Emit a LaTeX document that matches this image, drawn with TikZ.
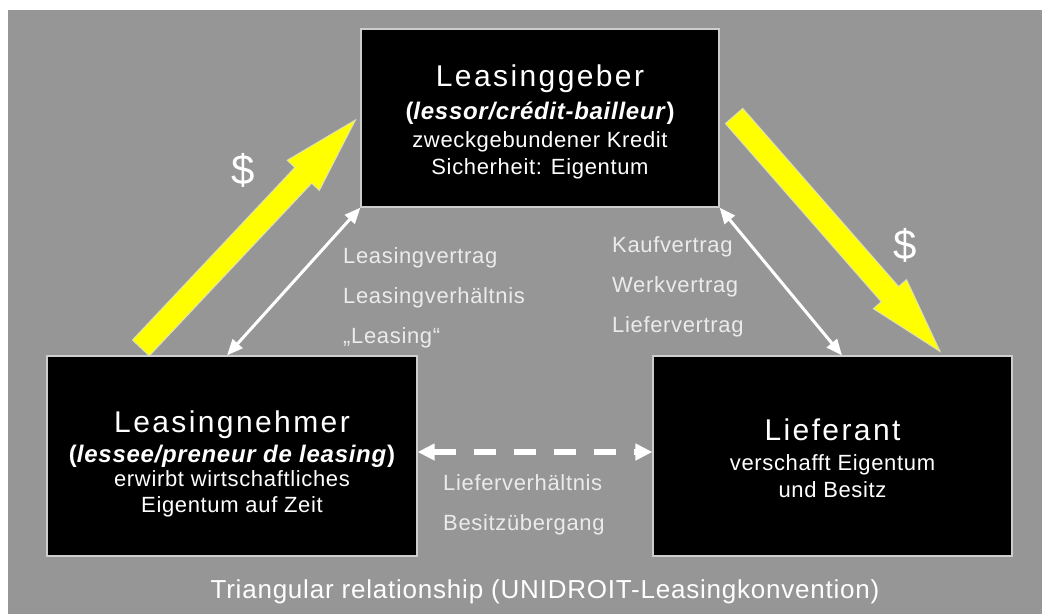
\documentclass[tikz,border=0pt]{standalone}
\usepackage{fontspec}
\setmainfont[LetterSpace=3]{Liberation Sans}
\newfontfamily\headfont[LetterSpace=8]{Liberation Sans}
\usetikzlibrary{arrows.meta,calc}
\definecolor{backgray}{RGB}{150,150,150}
\definecolor{boxline}{RGB}{205,205,205}
\definecolor{labelgray}{RGB}{235,235,235}
\definecolor{moneyyellow}{RGB}{255,255,0}
\definecolor{moneyline}{RGB}{225,225,170}
\tikzset{party/.style={draw=boxline,
                       fill=black,
                       line width=1.2pt,
                       inner sep=0pt},
         partytext/.style={text=white, align=center},
         contract/.style={text=labelgray, align=left, anchor=north west,
                          inner sep=0pt, font=\fontsize{22}{40}\selectfont},
         relation/.style={draw=white, line width=3pt},
         money/.style={fill=moneyyellow, draw=moneyline, line width=1pt},
         dollar/.style={text=white, font=\fontsize{42}{42}\selectfont}}
% broad yellow arrow from #1 to #2
\newcommand{\moneyarrow}[2]{%
  \coordinate (ms) at (#1);
  \coordinate (mt) at (#2);
  \coordinate (mh) at ($(mt)!76pt!(ms)$);
  \filldraw[money] ($(ms)!11.5pt!90:(mt)$) -- ($(mh)!11.5pt!90:(mt)$)
    -- ($(mh)!22pt!90:(mt)$) -- (mt) -- ($(mh)!22pt!-90:(mt)$)
    -- ($(mh)!11.5pt!-90:(mt)$) -- ($(ms)!11.5pt!-90:(mt)$) -- cycle;}

\begin{document}
\begin{tikzpicture}[x=1pt, y=-1pt, >={Triangle[length=16pt,width=13pt]}]
    % background, white edge at top and left
    \useasboundingbox (0,0) rectangle (1042,614);
    \fill[white] (0,0) rectangle (1042,614);
    \fill[backgray] (8,10) rectangle (1042,614);
    % We start by placing the three parties
    \node [party, minimum width=358pt, minimum height=178pt] (geber) at (540,118) {};
    \node [party, minimum width=370pt, minimum height=200pt] (nehmer) at (232,456) {};
    \node [party, minimum width=359pt, minimum height=200pt] (lieferant) at (832.5,456) {};
    % what is written in the boxes
    \node [partytext, font=\fontsize{22}{27}\selectfont] (gebertext) at ([yshift=-4pt]geber.center)
        {{\headfont\fontsize{30}{30}\selectfont Leasinggeber}\\[6pt]
         {\fontsize{24}{24}\selectfont\bfseries(\textit{lessor/crédit-bailleur})}\\[1pt]
         zweckgebundener Kredit\\
         Sicherheit: Eigentum};
    \node [partytext, font=\fontsize{22}{26}\selectfont] (nehmertext) at ([yshift=-8pt]nehmer.center)
        {{\headfont\fontsize{30}{30}\selectfont Leasingnehmer}\\[4pt]
         {\fontsize{24}{24}\selectfont\bfseries(\textit{lessee/preneur de leasing})}\\[-2pt]
         erwirbt wirtschaftliches\\
         Eigentum auf Zeit};
    \node [partytext, font=\fontsize{22}{27}\selectfont] (lieferanttext) at ([yshift=-2pt]lieferant.center)
        {{\headfont\fontsize{30}{30}\selectfont Lieferant}\\[3pt]
         verschafft Eigentum\\
         und Besitz};
    % the money flows
    \moneyarrow{[xshift=94.5pt,yshift=7.5pt]nehmer.north west}{[xshift=-5pt,yshift=-2pt]geber.west}
    \moneyarrow{[xshift=14.5pt,yshift=2pt]geber.east}{[xshift=107.5pt,yshift=4pt]lieferant.north}
    \node [dollar] (dollarin) at (243,170) {\$};
    \node [dollar] (dollarout) at (905,245) {\$};
    % contracts between the parties
    \draw [relation, <->] (geber.south west) -- ([xshift=-5pt]nehmer.north);
    \draw [relation, <->] (geber.south east) -- ([xshift=9.5pt]lieferant.north);
    \draw [relation, line width=6pt, dash pattern=on 22pt off 18pt,
           {Triangle[length=17pt,width=16pt]}-{Triangle[length=17pt,width=16pt]}]
        ([yshift=4pt]nehmer.east) -- ([yshift=4pt]lieferant.west);
    \node [contract] (leasinglabel) at (343,247) {Leasingvertrag\\Leasingverhältnis\\„Leasing“};
    \node [contract] (kauflabel) at (612,236) {Kaufvertrag\\Werkvertrag\\Liefervertrag};
    \node [contract] (lieferlabel) at (443,474) {Lieferverhältnis\\Besitzübergang};
    \node [text=white, font=\fontsize{26}{26}\selectfont, anchor=base] (caption) at (545,598)
        {Triangular relationship (UNIDROIT-Leasingkonvention)};
\end{tikzpicture}
\end{document}
